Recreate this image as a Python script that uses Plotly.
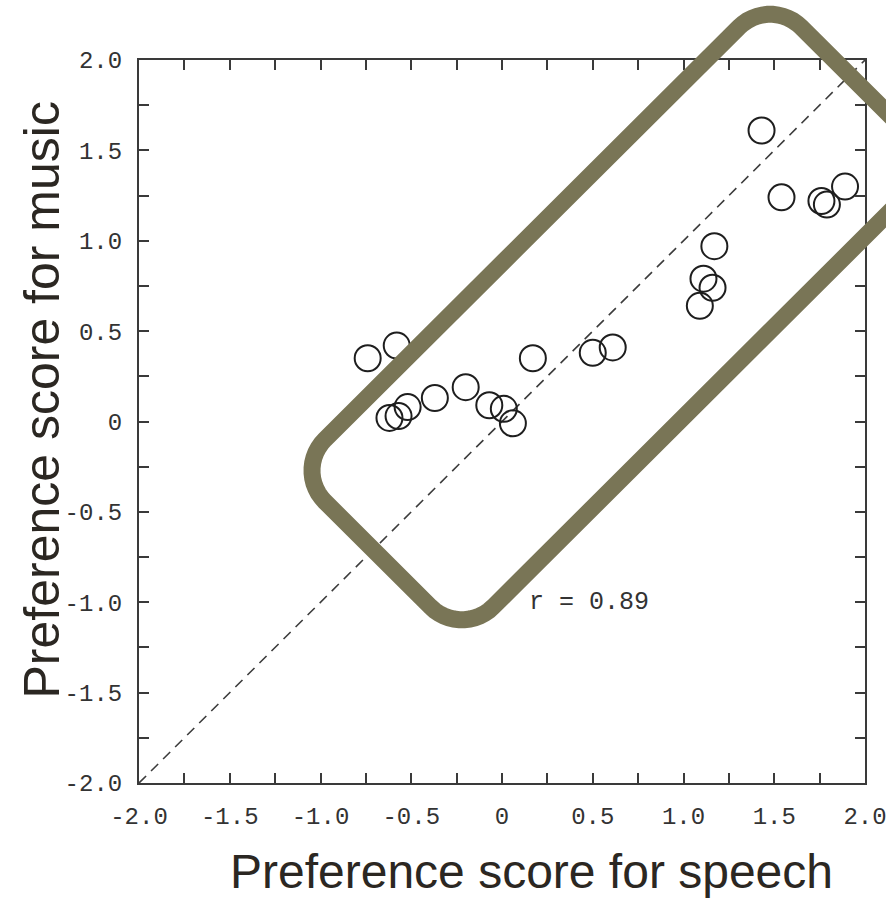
import numpy as np
import plotly.graph_objects as go

# Preference scores per listener
speech = [-0.74, -0.58, -0.62, -0.57, -0.52, -0.37, -0.20, -0.07, 0.01, 0.06,
          0.17, 0.50, 0.61, 1.09, 1.11, 1.16, 1.17, 1.43, 1.54, 1.76, 1.79, 1.89]
music = [0.35, 0.42, 0.02, 0.03, 0.08, 0.13, 0.19, 0.09, 0.07, -0.01,
         0.35, 0.38, 0.41, 0.64, 0.79, 0.74, 0.97, 1.61, 1.24, 1.22, 1.20, 1.30]

tick_vals = [-2.0, -1.75, -1.5, -1.25, -1.0, -0.75, -0.5, -0.25, 0.0,
             0.25, 0.5, 0.75, 1.0, 1.25, 1.5, 1.75, 2.0]
tick_text = ["-2.0", "", "-1.5", "", "-1.0", "", "-0.5", "", "0",
             "", "0.5", "", "1.0", "", "1.5", "", "2.0"]
r_label = "r = 0.89"

AX_MIN, AX_MAX = -2.0, 2.0
INK = "#3a3a3a"
OLIVE = "#797556"
MONO = "Liberation Mono, DejaVu Sans Mono, monospace"
SANS = "Liberation Sans, Arial, sans-serif"

fig = go.Figure()

# identity line
fig.add_trace(go.Scatter(
    x=[AX_MIN, AX_MAX], y=[AX_MIN, AX_MAX], mode="lines",
    line=dict(color="#3c3c3c", width=1.6, dash="10px,7px"),
    hoverinfo="skip", showlegend=False))

# listeners
fig.add_trace(go.Scatter(
    x=speech, y=music, mode="markers",
    marker=dict(symbol="circle-open", size=26, color="#1e1e1e",
                line=dict(width=2, color="#1e1e1e")),
    showlegend=False))


# rounded rectangle highlighting the cluster along the diagonal
def rounded_rect_path(cx, cy, half_len, half_wid, rad, n=14):
    pts = []
    corners = [(1, 1, 0), (-1, 1, 90), (-1, -1, 180), (1, -1, 270)]
    for sa, sb, a0 in corners:
        ca = sa * (half_len - rad)
        cb = sb * (half_wid - rad)
        for t in np.linspace(np.radians(a0), np.radians(a0 + 90), n):
            pts.append((ca + rad * np.cos(t), cb + rad * np.sin(t)))
    s = 1 / np.sqrt(2)
    out = []
    for a, b in pts:
        x = cx + (a + b) * s
        y = cy + (a - b) * s
        # data -> paper
        px = (x - AX_MIN) / (AX_MAX - AX_MIN)
        py = (y - AX_MIN) / (AX_MAX - AX_MIN)
        out.append(f"{px:.5f},{py:.5f}")
    return "M " + " L ".join(out) + " Z"


fig.add_shape(type="path", xref="paper", yref="paper", layer="above",
              path=rounded_rect_path(0.628, 0.578, 1.856, 0.655, 0.243),
              line=dict(color=OLIVE, width=17), fillcolor="rgba(0,0,0,0)")

axis_common = dict(
    range=[AX_MIN, AX_MAX], tickmode="array", tickvals=tick_vals,
    ticktext=tick_text, ticks="inside", ticklen=10, tickwidth=2,
    tickcolor=INK, showline=True, linecolor=INK, linewidth=2,
    mirror="ticks", showgrid=False, zeroline=False,
    tickfont=dict(family=MONO, size=24, color="#333333"),
    ticklabelstandoff=10, ticklabeloverflow="allow",
    automargin=False, fixedrange=True)

fig.update_xaxes(**axis_common)
fig.update_yaxes(**axis_common)

fig.add_annotation(x=0.14, y=-1.0, xref="x", yref="y", text=r_label,
                   showarrow=False, xanchor="left", yanchor="middle",
                   font=dict(family=MONO, size=25, color="#333333"))

fig.add_annotation(x=0.540, y=-0.123, xref="paper", yref="paper",
                   text="Preference score for speech", showarrow=False,
                   xanchor="center", yanchor="middle",
                   font=dict(family=SANS, size=48, color="#2b2722"))
fig.add_annotation(x=-0.134, y=0.53, xref="paper", yref="paper",
                   text="Preference score for music", showarrow=False,
                   textangle=-90, xanchor="center", yanchor="middle",
                   font=dict(family=SANS, size=50, color="#2b2722"))

fig.update_layout(
    width=886, height=898,
    margin=dict(l=139, r=21, t=60, b=115, autoexpand=False),
    paper_bgcolor="white", plot_bgcolor="white")

fig.write_html("out.html")
